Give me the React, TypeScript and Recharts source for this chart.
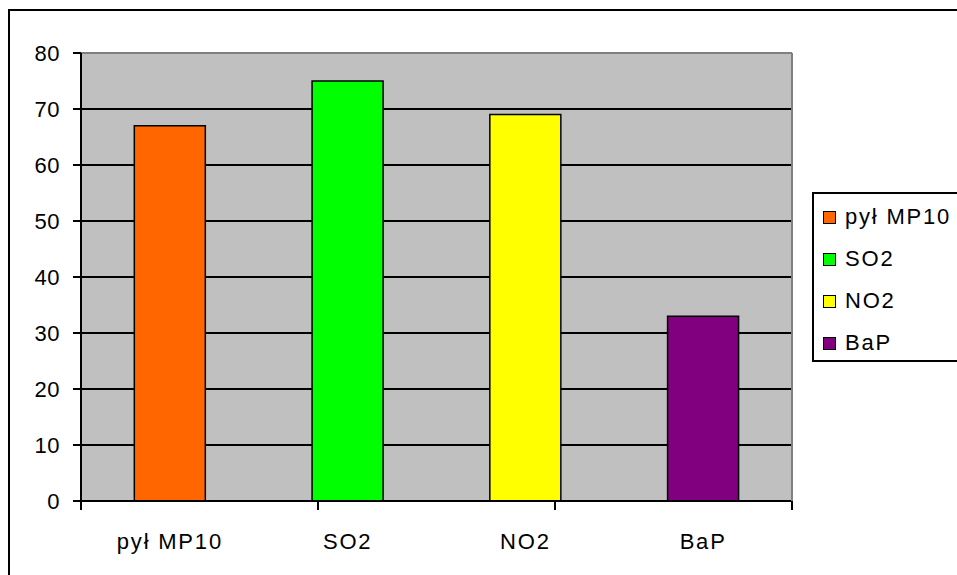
import React from 'react'
import {
  BarChart,
  Bar,
  Cell,
  XAxis,
  YAxis,
  CartesianGrid,
} from 'recharts'

const categories = ['pył MP10', 'SO2', 'NO2', 'BaP']
const values = [67, 75, 69, 33]
const colors = ['#ff6600', '#00ff00', '#ffff00', '#800080']
const yTicks = [0, 10, 20, 30, 40, 50, 60, 70, 80]
const edgeTicks = [0, 1, 2, 3, 4]

const data = categories.map((name, i) => ({ name, value: values[i] }))

const font = "'Liberation Sans', Arial, sans-serif"

function LegendBox() {
  return (
    <div
      style={{
        position: 'absolute',
        left: 804,
        top: 184,
        width: 170,
        height: 164,
        border: '2px solid #000',
        background: '#fff',
        fontFamily: font,
        fontSize: 22,
        paddingTop: 2,
        boxSizing: 'content-box',
      }}
    >
      {categories.map((name, i) => (
        <div
          key={name}
          style={{ display: 'flex', alignItems: 'center', height: 42, paddingLeft: 9 }}
        >
          <span
            style={{
              display: 'inline-block',
              width: 11,
              height: 11,
              background: colors[i],
              border: '1.5px solid #000',
              marginRight: 9,
            }}
          />
          <span style={{ letterSpacing: 1.8 }}>{name}</span>
        </div>
      ))}
    </div>
  )
}

export default function App() {
  // fixed so the part cut off at the window edge adds no scrollbars
  return (
    <div
      style={{
        position: 'fixed',
        left: 8,
        top: 8,
        width: 949,
        height: 567,
        overflow: 'hidden',
        background: '#fff',
      }}
    >
      <BarChart
        width={949}
        height={567}
        data={data}
        margin={{ top: 44, right: 164, left: 0, bottom: 0 }}
        barCategoryGap="30%"
      >
        <CartesianGrid
          xAxisId="cat"
          vertical={false}
          fill="#c0c0c0"
          fillOpacity={1}
          stroke="#000"
          strokeWidth={2}
        />
        {/* thin axis right on the plot edge: axis line + tick marks between categories */}
        <XAxis
          xAxisId={0}
          type="number"
          domain={[0, 4]}
          ticks={edgeTicks}
          height={1}
          axisLine={{ stroke: '#000', strokeWidth: 2 }}
          tickSize={9}
          tickLine={{ stroke: '#000', strokeWidth: 2 }}
          tickFormatter={() => ''}
        />
        <XAxis
          xAxisId="cat"
          dataKey="name"
          height={73}
          tickLine={false}
          axisLine={false}
          tickSize={8}
          tickMargin={23}
          fontSize={22}
          tick={{ fill: '#000', fontSize: 22, fontFamily: font, letterSpacing: 1.8 }}
        />
        <XAxis
          xAxisId="top"
          orientation="top"
          type="number"
          domain={[0, 1]}
          height={1}
          tick={false}
          tickLine={false}
          axisLine={{ stroke: '#808080', strokeWidth: 2 }}
        />
        <YAxis
          domain={[0, 80]}
          ticks={yTicks}
          width={73}
          tickSize={8}
          tickMargin={13}
          fontSize={22}
          axisLine={{ stroke: '#000', strokeWidth: 2 }}
          tickLine={{ stroke: '#000', strokeWidth: 2 }}
          tick={{ fill: '#000', fontSize: 22, fontFamily: font, letterSpacing: 0.5 }}
        />
        <YAxis
          yAxisId="right"
          orientation="right"
          domain={[0, 1]}
          width={1}
          tick={false}
          tickLine={false}
          axisLine={{ stroke: '#808080', strokeWidth: 2 }}
        />
        <Bar xAxisId="cat" dataKey="value" stroke="#000" strokeWidth={1.5} isAnimationActive={false}>
          {data.map((d, i) => (
            <Cell key={d.name} fill={colors[i]} />
          ))}
        </Bar>
      </BarChart>
      <LegendBox />
      <div
        style={{
          position: 'absolute',
          left: 0,
          top: 1,
          width: 949,
          height: 566,
          borderLeft: '2px solid #000',
          borderTop: '2px solid #000',
          boxSizing: 'border-box',
          pointerEvents: 'none',
        }}
      />
    </div>
  )
}
